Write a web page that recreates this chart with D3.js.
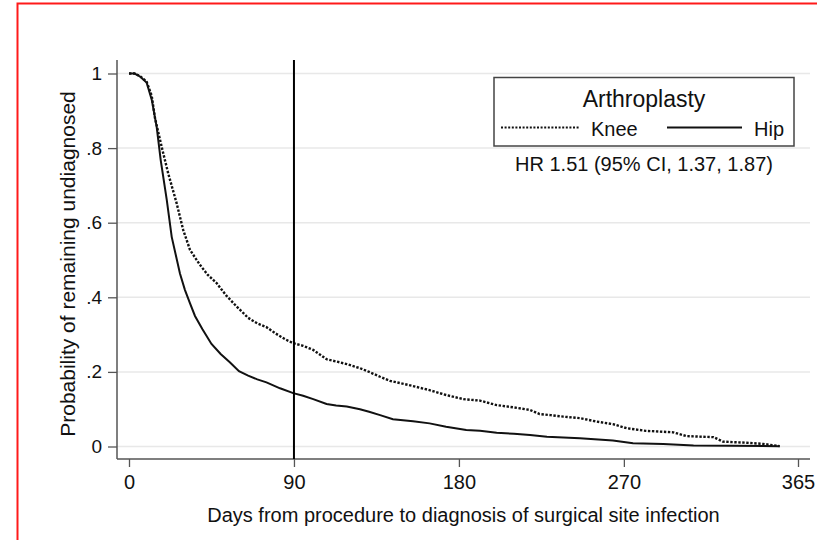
<!DOCTYPE html>
<html>
<head>
<meta charset="utf-8">
<script src="https://cdn.jsdelivr.net/npm/d3@7"></script>
<style>
  html, body { margin: 0; padding: 0; background: #fff; }
  svg { display: block; font-family: "Liberation Sans", Arial, sans-serif; }
</style>
</head>
<body>
<svg id="chart" width="817" height="540"></svg>
<script>
// ---- Data ----
const kneeDays = [0,3,6,9.6,12.4,14.2,17.8,21.4,26,29.6,33.3,38.7,43,47.8,53,58.8,65,70,75,80,85,89.6,95,100.5,107.8,113,118.8,126,131,137,142.4,148,155,164,173,182.4,191.5,200.6,209.7,218.8,224,230,237,246,255,264,271.5,282,297,304,319,324,337,346,355];
const kneeSurv = [1.0,1.0,0.993,0.978,0.94,0.88,0.804,0.732,0.652,0.58,0.527,0.487,0.46,0.438,0.405,0.375,0.345,0.33,0.32,0.303,0.288,0.277,0.27,0.259,0.234,0.228,0.221,0.21,0.2,0.187,0.176,0.17,0.162,0.151,0.138,0.127,0.123,0.111,0.105,0.098,0.087,0.084,0.08,0.076,0.067,0.06,0.049,0.042,0.038,0.028,0.025,0.013,0.010,0.007,0.001];
const hipDays = [0,3,6,9.6,12.4,15.1,17.3,20.6,23.3,27.8,30.5,33.3,36,40,45,50,55,60,65,70,75,82.4,89.6,95,100.5,107.8,113,118.8,126,131,137,144,155,164,173,184,191.5,200.6,210,218.8,228,246,264,275,291.5,308,328,355];
const hipSurv = [1.0,1.0,0.992,0.976,0.93,0.857,0.768,0.661,0.562,0.464,0.42,0.384,0.35,0.315,0.275,0.248,0.226,0.202,0.19,0.18,0.172,0.156,0.143,0.136,0.127,0.114,0.11,0.107,0.1,0.093,0.084,0.073,0.068,0.062,0.053,0.044,0.042,0.037,0.034,0.031,0.026,0.022,0.016,0.009,0.007,0.003,0.002,0.001];
const xTicks = [0, 90, 180, 270, 365];
const yTicks = [0, 0.2, 0.4, 0.6, 0.8, 1];
const yTickLabels = ["0", ".2", ".4", ".6", ".8", "1"];
const refDay = 90;
const legendTitle = "Arthroplasty";
const seriesNames = ["Knee", "Hip"];
const hrText = "HR 1.51 (95% CI, 1.37, 1.87)";
const xTitle = "Days from procedure to diagnosis of surgical site infection";
const yTitle = "Probability of remaining undiagnosed";

// ---- Layout ----
const svg = d3.select("#chart");
const plotL = 117, plotR = 810, plotT = 60, plotB = 459;
const x = d3.scaleLinear().domain([0, 365]).range([129, 798]);
const y = d3.scaleLinear().domain([0, 1]).range([446.5, 73.5]);

// red frame
svg.append("rect").attr("x", 17.5).attr("y", 3.5).attr("width", 900).attr("height", 600)
  .attr("fill", "none").attr("stroke", "#ff1a1a").attr("stroke-width", 2);

// gridlines
svg.append("g").selectAll("line").data(yTicks).join("line")
  .attr("x1", plotL).attr("x2", plotR)
  .attr("y1", d => y(d)).attr("y2", d => y(d))
  .attr("stroke", "#e8e8e8").attr("stroke-width", 1.5);

// y axis
const yAxis = d3.axisLeft(y).tickValues(yTicks)
  .tickFormat((d, i) => yTickLabels[i]).tickSize(9).tickPadding(6);
const gy = svg.append("g").attr("transform", `translate(${plotL},0)`).call(yAxis);
gy.select(".domain").remove();
gy.selectAll(".tick line").attr("stroke", "#555").attr("stroke-width", 1.3);
gy.selectAll(".tick text").attr("font-size", 19).attr("fill", "#111")
  .attr("font-family", "Liberation Sans, Arial, sans-serif");
svg.append("line").attr("x1", plotL).attr("x2", plotL).attr("y1", plotT).attr("y2", plotB)
  .attr("stroke", "#555").attr("stroke-width", 1.5);

// x axis
const xAxis = d3.axisBottom(x).tickValues(xTicks).tickFormat(d3.format("d"))
  .tickSize(8).tickPadding(8);
const gx = svg.append("g").attr("transform", `translate(0,${plotB})`).call(xAxis);
gx.select(".domain").remove();
gx.selectAll(".tick line").attr("stroke", "#555").attr("stroke-width", 1.3);
gx.selectAll(".tick text").attr("font-size", 20).attr("fill", "#111")
  .attr("font-family", "Liberation Sans, Arial, sans-serif");
svg.append("line").attr("x1", plotL).attr("x2", plotR).attr("y1", plotB).attr("y2", plotB)
  .attr("stroke", "#555").attr("stroke-width", 1.5);

// curves
const line = d3.line().x(d => x(d[0])).y(d => y(d[1])).curve(d3.curveLinear);
const knee = kneeDays.map((d, i) => [d, kneeSurv[i]]);
const hip = hipDays.map((d, i) => [d, hipSurv[i]]);
svg.append("path").datum(knee).attr("d", line).attr("fill", "none")
  .attr("stroke", "#111").attr("stroke-width", 2.4).attr("stroke-dasharray", "2.4,1.6");
svg.append("path").datum(hip).attr("d", line).attr("fill", "none")
  .attr("stroke", "#111").attr("stroke-width", 2);

// vertical reference line at 90 days
svg.append("line").attr("x1", x(refDay)).attr("x2", x(refDay)).attr("y1", plotT).attr("y2", plotB)
  .attr("stroke", "#000").attr("stroke-width", 2);

// axis titles
svg.append("text").attr("x", 463.5).attr("y", 521.5).attr("text-anchor", "middle")
  .attr("font-size", 20).attr("fill", "#111").text(xTitle);
svg.append("text").attr("transform", "translate(75,264) rotate(-90)").attr("text-anchor", "middle")
  .attr("font-size", 21).attr("fill", "#111").text(yTitle);

// legend
const lg = svg.append("g");
lg.append("rect").attr("x", 494).attr("y", 77.5).attr("width", 300).attr("height", 68.5)
  .attr("fill", "#fff").attr("stroke", "#444").attr("stroke-width", 1.5);
lg.append("text").attr("x", 644).attr("y", 106.5).attr("text-anchor", "middle")
  .attr("font-size", 23).attr("fill", "#111").text(legendTitle);
lg.append("line").attr("x1", 501).attr("x2", 579).attr("y1", 127.5).attr("y2", 127.5)
  .attr("stroke", "#111").attr("stroke-width", 2).attr("stroke-dasharray", "2,1.6");
lg.append("text").attr("x", 591).attr("y", 135.5).attr("font-size", 20).attr("fill", "#111").text(seriesNames[0]);
lg.append("line").attr("x1", 667).attr("x2", 742).attr("y1", 127.5).attr("y2", 127.5)
  .attr("stroke", "#111").attr("stroke-width", 2);
lg.append("text").attr("x", 754).attr("y", 135.5).attr("font-size", 20).attr("fill", "#111").text(seriesNames[1]);

// HR annotation
svg.append("text").attr("x", 644).attr("y", 171).attr("text-anchor", "middle")
  .attr("font-size", 20).attr("fill", "#111").text(hrText);
</script>
</body>
</html>
